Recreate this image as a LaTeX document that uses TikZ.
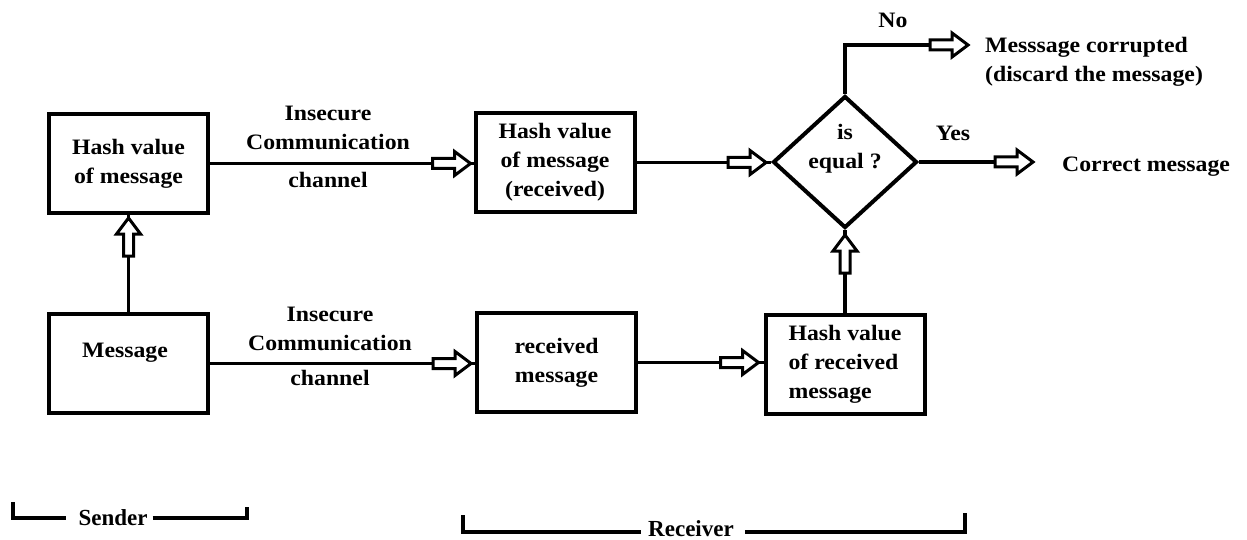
\documentclass[tikz,border=0pt]{standalone}
\usepackage{fontspec}
\usetikzlibrary{shapes.geometric}
\newfontfamily\diagfont{Liberation Serif}[FakeStretch=1.08]
\newfontfamily\groupfont{Liberation Serif}
\tikzset{
  txt/.style={font=\diagfont\bfseries\fontsize{22}{29}\selectfont, align=center, inner sep=0pt},
  grp/.style={font=\groupfont\bfseries\fontsize{23}{27}\selectfont, inner sep=0pt},
  box/.style={draw, line width=4pt, minimum width=159pt, minimum height=99pt, inner sep=0pt,
              font=\diagfont\bfseries\fontsize{22}{29}\selectfont, align=center},
  decision/.style={draw, diamond, line width=4pt, minimum width=144pt, minimum height=132pt, inner sep=0pt},
  conn/.style={line width=3.5pt},
  brk/.style={line width=4pt},
  harrow/.pic={\draw[line width=3pt, fill=white, line join=miter]
      (0,0) -- (-16,-12) -- (-16,-5) -- (-38,-5) -- (-38,5) -- (-16,5) -- (-16,12) -- cycle;}
}
\begin{document}
\begin{tikzpicture}[x=1pt,y=-1pt]
\useasboundingbox (0,0) rectangle (1247,540);

% sender side
\node[box] (hv)  at (128.5,163.5) {Hash value\\of message};
\node[box] (msg) at (128.5,363.5) {};
\node[txt] (msgt) at (125,353) {Message};

% receiver side
\node[box] (hvr) at (555,162.5) {Hash value\\of message\\(received)};
\node[box] (rm)  at (556.5,362.5) {received\\message};
\node[box, align=left] (hrm) at (845,364) {Hash value\\of received\\message};
\node[decision] (dia) at (845,162) {};
\node[txt] (diat) at (845,149) {is\\equal ?};

% channel labels
\node[txt] (ch1a) at (328,128) {Insecure\\Communication};
\node[txt] (ch1b) at (328,180) {channel};
\node[txt] (ch2a) at (330,329) {Insecure\\Communication};
\node[txt] (ch2b) at (330,378) {channel};

% outcomes
\node[txt] (no)  at (893,20) {No};
\node[txt] (yes) at (953,133) {Yes};
\node[txt, align=left, anchor=west] (cor) at (985,62) {Messsage corrupted\\(discard the message)};
\node[txt, anchor=west] (cm) at (1062,167) {Correct message};
\coordinate (noend) at (968,45);
\coordinate (yesend) at (1033,162);

% connectors
\draw[conn] (msg.north) -- (hv.south);
\pic[rotate=90] at ([yshift=-3pt]hv.south) {harrow};

\draw[conn] (hv.east) -- (hv.east -| hvr.west);
\pic at ([xshift=-3pt]hv.east -| hvr.west) {harrow};

\draw[conn] (msg.east) -- (msg.east -| rm.west);
\pic at ([xshift=-4pt]msg.east -| rm.west) {harrow};

\draw[conn] (hvr.east) -- (hvr.east -| dia.west);
\pic at ([xshift=-5pt]hvr.east -| dia.west) {harrow};

\draw[conn] (rm.east) -- (rm.east -| hrm.west);
\pic at ([xshift=-5pt]rm.east -| hrm.west) {harrow};

\draw[conn] (hrm.north) -- (dia.south);
\pic[rotate=90] at ([yshift=-5pt]dia.south) {harrow};

\draw[conn] (dia.north) |- (noend);
\pic at (noend) {harrow};

\draw[conn] (dia.east) -- (yesend);
\pic at (yesend) {harrow};

% group brackets
\node[grp] (snd) at (113,518) {Sender};
\draw[brk] (13,502) |- ([xshift=-12pt]snd.west);
\draw[brk] ([xshift=5pt]snd.east) -| (247,507);

\node[grp, anchor=base] (rcv) at (691,536) {Receiver};
\coordinate (rl) at ([xshift=-7pt]rcv.west);
\coordinate (rr) at ([xshift=11pt]rcv.east);
\draw[brk] (463,515) |- (rl |- 463,532);
\draw[brk] (rr |- 965,532) -| (965,513);
\end{tikzpicture}
\end{document}
